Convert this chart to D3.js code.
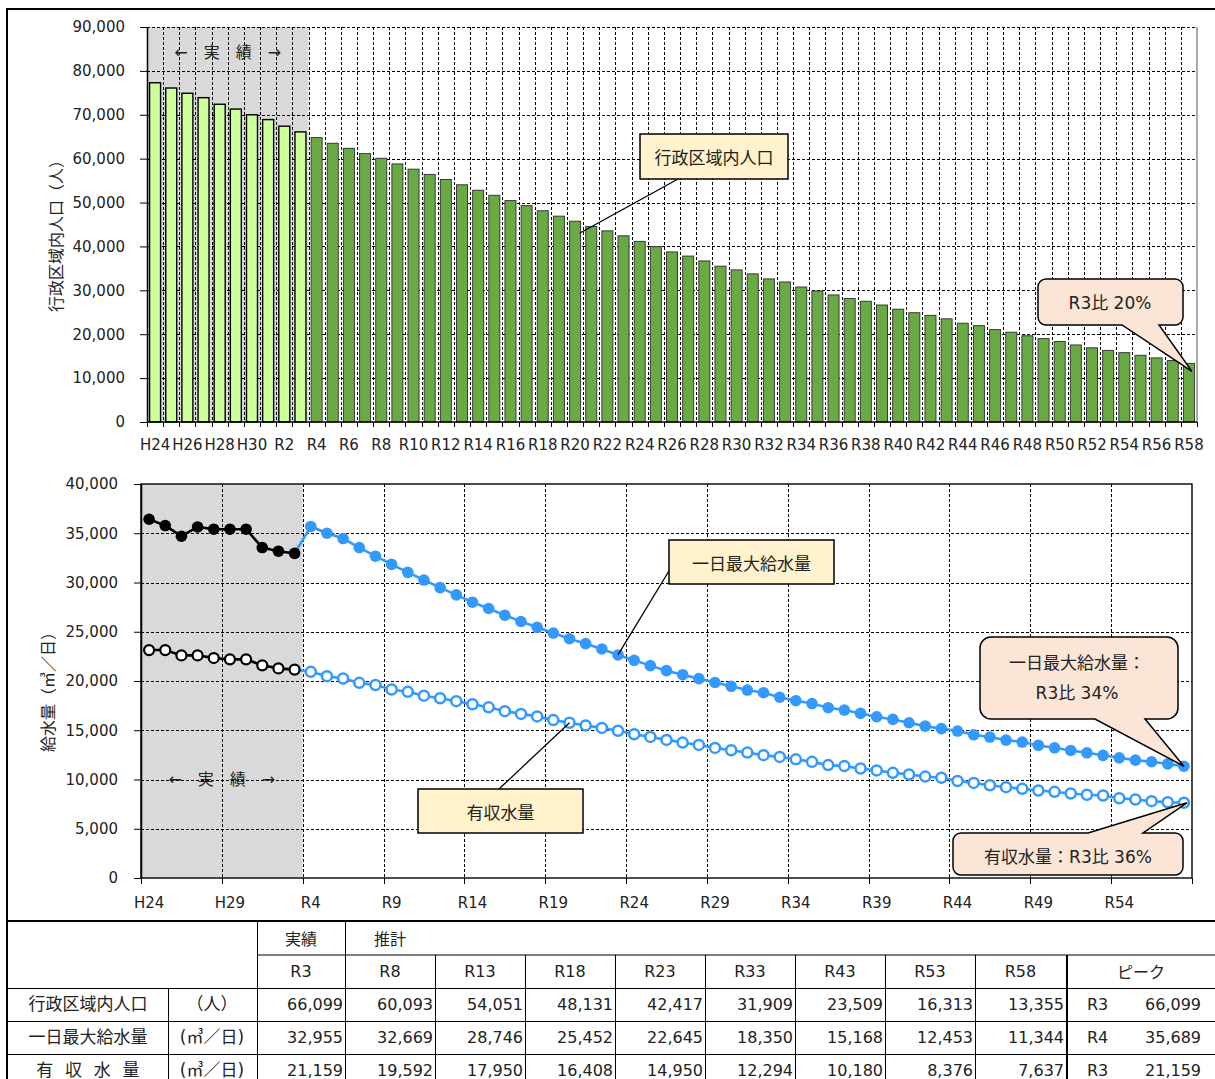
<!DOCTYPE html>
<html>
<head>
<meta charset="utf-8">
<script src="https://cdn.jsdelivr.net/npm/d3@7"></script>
<style>
  html, body { margin: 0; padding: 0; background: #fff; }
  svg { display: block; }
</style>
</head>
<body>
<svg id="chart" width="1215" height="1079"></svg>
<script>
// ---------------- data ----------------
const years = [
  "H24","H25","H26","H27","H28","H29","H30",
  "R1","R2","R3","R4","R5","R6","R7","R8","R9","R10",
  "R11","R12","R13","R14","R15","R16","R17","R18","R19","R20",
  "R21","R22","R23","R24","R25","R26","R27","R28","R29","R30",
  "R31","R32","R33","R34","R35","R36","R37","R38","R39","R40",
  "R41","R42","R43","R44","R45","R46","R47","R48","R49","R50",
  "R51","R52","R53","R54","R55","R56","R57","R58"
];
const actualYears = ["H24","H25","H26","H27","H28","H29","H30","R1","R2","R3"];

// population inside the administrative area (people), H24..R58
const population = [
  77300, 76100, 74900, 73900, 72400, 71300, 70000, 68900, 67400, 66099,
  64800, 63500, 62350, 61150, 60093, 58800, 57600, 56400, 55250, 54051,
  52800, 51650, 50450, 49300, 48131, 46900, 45750, 44550, 43550, 42417,
  41150, 39950, 38750, 37800, 36700, 35500, 34650, 33750, 32600, 31909,
  30750, 29850, 28950, 28150, 27500, 26650, 25700, 24900, 24300, 23509,
  22500, 21950, 21050, 20450, 19650, 19000, 18350, 17550, 16900, 16313,
  15800, 15200, 14600, 14000, 13355
];

// maximum daily supply (m3/day): actual H24..R3, forecast R4..R58
const maxSupplyActual = [36420, 35780, 34700, 35640, 35410, 35410, 35410, 33550, 33180, 32955];
const maxSupplyForecast = [
  35689, 35000, 34460, 33550, 32669, 31840, 31030, 30250, 29480, 28746,
  28000, 27360, 26680, 26040, 25452, 24870, 24290, 23790, 23250, 22645,
  22100, 21560, 21050, 20640, 20240, 19850, 19460, 19080, 18810, 18350,
  18000, 17710, 17290, 17050, 16710, 16370, 16100, 15760, 15420, 15168,
  14920, 14540, 14310, 14000, 13800, 13460, 13220, 12950, 12710, 12453,
  12200, 11970, 11800, 11590, 11344
];

// revenue water (m3/day): actual H24..R3, forecast R4..R58
const revenueActual = [23140, 23140, 22600, 22600, 22330, 22200, 22200, 21590, 21280, 21159];
const revenueForecast = [
  20930, 20490, 20250, 19810, 19592, 19140, 18900, 18510, 18250, 17950,
  17640, 17330, 16940, 16660, 16408, 16030, 15760, 15490, 15240, 14950,
  14590, 14320, 14020, 13750, 13510, 13210, 12970, 12730, 12470, 12294,
  12050, 11790, 11460, 11360, 11120, 10920, 10680, 10510, 10300, 10180,
  9850, 9650, 9420, 9220, 9050, 8880, 8750, 8580, 8450, 8376,
  8100, 7970, 7800, 7690, 7637
];

// axis ticks
const popTicks = [0, 10000, 20000, 30000, 40000, 50000, 60000, 70000, 80000, 90000];
const waterTicks = [0, 5000, 10000, 15000, 20000, 25000, 30000, 35000, 40000];
const popTickYears = ["H24","H26","H28","H30","R2","R4","R6","R8","R10","R12","R14","R16","R18",
  "R20","R22","R24","R26","R28","R30","R32","R34","R36","R38","R40","R42","R44","R46","R48",
  "R50","R52","R54","R56","R58"];
const waterTickYears = ["H24","H29","R4","R9","R14","R19","R24","R29","R34","R39","R44","R49","R54"];

// summary table
const tableYears = ["R3","R8","R13","R18","R23","R33","R43","R53","R58"];
const tablePopulation = [66099, 60093, 54051, 48131, 42417, 31909, 23509, 16313, 13355];
const tableMaxSupply = [32955, 32669, 28746, 25452, 22645, 18350, 15168, 12453, 11344];
const tableRevenue = [21159, 19592, 17950, 16408, 14950, 12294, 10180, 8376, 7637];
const peakYears = ["R3", "R4", "R3"];
const peakValues = [66099, 35689, 21159];

// ---------------- drawing ----------------
const FONT = '"DejaVu Sans","Noto Sans CJK JP",sans-serif';
const CJK = '"Noto Sans CJK JP","DejaVu Sans",sans-serif';
const fmt = d3.format(",");
const crisp = v => Math.round(v) + 0.5;
const svg = d3.select("#chart").attr("font-family", FONT);

const forecastYears = years.slice(actualYears.length);

function dashed(g, x1, y1, x2, y2) {
  g.append("line").attr("x1", x1).attr("y1", y1).attr("x2", x2).attr("y2", y2)
    .attr("stroke", "#000").attr("stroke-width", 1).attr("stroke-dasharray", "3,2")
    .attr("shape-rendering", "crispEdges");
}
function solid(g, x1, y1, x2, y2, w, c) {
  g.append("line").attr("x1", x1).attr("y1", y1).attr("x2", x2).attr("y2", y2)
    .attr("stroke", c || "#000").attr("stroke-width", w || 1);
}
function calloutPath(o) {
  const { x, y, w, h, r, t1, t2, tip } = o;
  if (o.side === "bottom") {
    return `M${x + r},${y}H${x + w - r}A${r},${r} 0 0 1 ${x + w},${y + r}V${y + h - r}` +
      `A${r},${r} 0 0 1 ${x + w - r},${y + h}H${t2}L${tip[0]},${tip[1]}L${t1},${y + h}H${x + r}` +
      `A${r},${r} 0 0 1 ${x},${y + h - r}V${y + r}A${r},${r} 0 0 1 ${x + r},${y}Z`;
  }
  return `M${x + r},${y}H${t1}L${tip[0]},${tip[1]}L${t2},${y}H${x + w - r}` +
    `A${r},${r} 0 0 1 ${x + w},${y + r}V${y + h - r}A${r},${r} 0 0 1 ${x + w - r},${y + h}` +
    `H${x + r}A${r},${r} 0 0 1 ${x},${y + h - r}V${y + r}A${r},${r} 0 0 1 ${x + r},${y}Z`;
}
function label(g, x, y, text, size, opts) {
  opts = opts || {};
  return g.append("text").attr("x", x).attr("y", y)
    .attr("text-anchor", opts.anchor || "middle").attr("dominant-baseline", "central")
    .attr("font-size", size).attr("font-family", opts.family || FONT)
    .attr("fill", opts.fill || "#222").text(text);
}

// outer frame
svg.append("path").attr("d", "M7,1079V9H1215").attr("fill", "none")
  .attr("stroke", "#000").attr("stroke-width", 2);

// ===== population bars =====
const T = { left: 147, right: 1197, top: 27, bottom: 422 };
const xTop = d3.scaleBand().domain(years).range([T.left, T.right]).paddingInner(0.32).paddingOuter(0.16);
const stepT = xTop.step();
const yTop = d3.scaleLinear().domain([0, 90000]).range([T.bottom, T.top]);
const gTop = svg.append("g");

gTop.append("rect").attr("x", T.left).attr("y", T.top)
  .attr("width", stepT * actualYears.length).attr("height", T.bottom - T.top).attr("fill", "#d9d9d9");

popTicks.filter(d => d > 0).forEach(d => dashed(gTop, T.left, crisp(yTop(d)), T.right, crisp(yTop(d))));
d3.range(1, years.length).forEach(k => {
  const x = crisp(T.left + k * stepT);
  dashed(gTop, x, T.top, x, T.bottom);
});

gTop.selectAll("rect.bar").data(years).join("rect").attr("class", "bar")
  .attr("x", d => xTop(d)).attr("width", xTop.bandwidth())
  .attr("y", (d, i) => yTop(population[i]))
  .attr("height", (d, i) => T.bottom - yTop(population[i]))
  .attr("fill", (d, i) => i < actualYears.length ? "#ccff99" : "#6aaa45")
  .attr("stroke", (d, i) => i < actualYears.length ? "#000" : "#3a3a3a")
  .attr("stroke-width", (d, i) => i < actualYears.length ? 1.4 : 1);

label(gTop, T.left + stepT * actualYears.length / 2, 52, "←　実　績　→", 16);

// plot border and axes
solid(gTop, T.right, T.top, T.right, T.bottom, 1, "#555");
const yAxisTop = gTop.append("g").attr("transform", `translate(${T.left},0)`)
  .call(d3.axisLeft(yTop).tickValues(popTicks).tickFormat(fmt).tickSize(7).tickPadding(15).tickSizeOuter(0));
yAxisTop.select(".domain").attr("stroke", "#000").attr("stroke-width", 1.5);
yAxisTop.selectAll("text").attr("font-size", 15).attr("font-family", FONT).attr("fill", "#222");

solid(gTop, T.left, T.bottom, T.right, T.bottom, 1.5);
d3.range(0, years.length + 1).forEach(k => {
  const x = crisp(T.left + k * stepT);
  solid(gTop, x, T.bottom, x, T.bottom + 5, 1);
});
const xAxisTop = gTop.append("g").attr("transform", `translate(0,${T.bottom})`)
  .call(d3.axisBottom(xTop).tickValues(popTickYears).tickSize(0).tickPadding(17));
xAxisTop.select(".domain").remove();
xAxisTop.selectAll("text").attr("font-size", 15).attr("font-family", FONT).attr("fill", "#222");

label(gTop, 0, 0, "行政区域内人口（人）", 16, { family: CJK })
  .attr("transform", "translate(55,232) rotate(-90)");

// annotations
const popLeaderYear = "R20";
const popLeaderIdx = years.indexOf(popLeaderYear);
solid(gTop, 678, 179, xTop(popLeaderYear) + xTop.bandwidth() - 1, yTop(population[popLeaderIdx]) + 12, 1.3);
gTop.append("rect").attr("x", 640).attr("y", 134).attr("width", 148).attr("height", 45)
  .attr("fill", "#fff2cc").attr("stroke", "#000").attr("stroke-width", 1.5);
label(gTop, 714, 156.5, "行政区域内人口", 17, { family: CJK });

const lastIdx = years.length - 1;
gTop.append("path").attr("d", calloutPath({
  x: 1038, y: 279, w: 145, h: 46, r: 8, side: "bottom", t1: 1122, t2: 1159,
  tip: [xTop(years[lastIdx]) + xTop.bandwidth() / 2 + 3, yTop(population[lastIdx]) + 8]
})).attr("fill", "#fbe5d6").attr("stroke", "#000").attr("stroke-width", 1.5);
label(gTop, 1110, 303, "R3比 20%", 17);

// ===== water supply lines =====
const B = { left: 141, right: 1192, top: 484, bottom: 878 };
const xBot = d3.scaleBand().domain(years).range([B.left, B.right]);
const cx = d => xBot(d) + xBot.bandwidth() / 2;
const yBot = d3.scaleLinear().domain([0, 40000]).range([B.bottom, B.top]);
const gBot = svg.append("g");

gBot.append("rect").attr("x", B.left).attr("y", B.top)
  .attr("width", xBot.step() * actualYears.length).attr("height", B.bottom - B.top).attr("fill", "#d9d9d9");

waterTicks.filter(d => d > 0 && d < 40000).forEach(d => dashed(gBot, B.left, crisp(yBot(d)), B.right, crisp(yBot(d))));
waterTickYears.slice(1).forEach(y => {
  const x = crisp(xBot(y));
  dashed(gBot, x, B.top, x, B.bottom);
});

label(gBot, B.left + xBot.step() * actualYears.length / 2, 779, "←　実　績　→", 16);

gBot.append("rect").attr("x", B.left).attr("y", B.top).attr("width", B.right - B.left)
  .attr("height", B.bottom - B.top).attr("fill", "none").attr("stroke", "#000").attr("stroke-width", 1.4);

const yAxisBot = gBot.append("g").attr("transform", `translate(${B.left},0)`)
  .call(d3.axisLeft(yBot).tickValues(waterTicks).tickFormat(fmt).tickSize(7).tickPadding(16).tickSizeOuter(0));
yAxisBot.select(".domain").attr("stroke", "#000").attr("stroke-width", 1.5);
yAxisBot.selectAll("text").attr("font-size", 15).attr("font-family", FONT).attr("fill", "#222");

waterTickYears.map(y => xBot(y)).concat([B.right]).forEach(x => solid(gBot, crisp(x), B.bottom, crisp(x), B.bottom + 6, 1));
const xAxisBot = gBot.append("g").attr("transform", `translate(0,${B.bottom})`)
  .call(d3.axisBottom(xBot).tickValues(waterTickYears).tickSize(0).tickPadding(19));
xAxisBot.select(".domain").remove();
xAxisBot.selectAll("text").attr("font-size", 15).attr("font-family", FONT).attr("fill", "#222");

label(gBot, 0, 0, "給水量（㎥／日）", 16, { family: CJK })
  .attr("transform", "translate(47,688) rotate(-90)");

const BLUE = "#3399ff";
const line = d3.line().x(d => cx(d.year)).y(d => yBot(d.v));
const toPts = (ys, vs) => ys.map((y, i) => ({ year: y, v: vs[i] }));

const maxAct = toPts(actualYears, maxSupplyActual);
const revAct = toPts(actualYears, revenueActual);
const maxFc = toPts(forecastYears, maxSupplyForecast);
const revFc = toPts(forecastYears, revenueForecast);
const maxFcLine = [maxAct[maxAct.length - 1]].concat(maxFc);
const revFcLine = [revAct[revAct.length - 1]].concat(revFc);

// forecast (blue)
gBot.append("path").attr("d", line(revFcLine)).attr("fill", "none").attr("stroke", BLUE).attr("stroke-width", 2.6);
gBot.selectAll("circle.revfc").data(revFc).join("circle").attr("class", "revfc")
  .attr("cx", d => cx(d.year)).attr("cy", d => yBot(d.v)).attr("r", 5)
  .attr("fill", "#fff").attr("stroke", BLUE).attr("stroke-width", 2.5);
gBot.append("path").attr("d", line(maxFcLine)).attr("fill", "none").attr("stroke", BLUE).attr("stroke-width", 2.6);
gBot.selectAll("circle.maxfc").data(maxFc).join("circle").attr("class", "maxfc")
  .attr("cx", d => cx(d.year)).attr("cy", d => yBot(d.v)).attr("r", 5.8).attr("fill", BLUE);

// actual (black)
gBot.append("path").attr("d", line(revAct)).attr("fill", "none").attr("stroke", "#000").attr("stroke-width", 2.6);
gBot.selectAll("circle.revact").data(revAct).join("circle").attr("class", "revact")
  .attr("cx", d => cx(d.year)).attr("cy", d => yBot(d.v)).attr("r", 5)
  .attr("fill", "#fff").attr("stroke", "#000").attr("stroke-width", 2.2);
gBot.append("path").attr("d", line(maxAct)).attr("fill", "none").attr("stroke", "#000").attr("stroke-width", 2.6);
gBot.selectAll("circle.maxact").data(maxAct).join("circle").attr("class", "maxact")
  .attr("cx", d => cx(d.year)).attr("cy", d => yBot(d.v)).attr("r", 5.8).attr("fill", "#000");

// annotations
const maxLeader = maxFc.find(d => d.year === "R23");
solid(gBot, 672, 566, cx(maxLeader.year), yBot(maxLeader.v), 1.3);
gBot.append("rect").attr("x", 669).attr("y", 540).attr("width", 165).attr("height", 44)
  .attr("fill", "#fff2cc").attr("stroke", "#000").attr("stroke-width", 1.5);
label(gBot, 751.5, 562, "一日最大給水量", 17, { family: CJK });

const revLeader = revFc.find(d => d.year === "R20");
solid(gBot, 499, 789, cx(revLeader.year), yBot(revLeader.v), 1.3);
gBot.append("rect").attr("x", 418).attr("y", 789).attr("width", 165).attr("height", 44)
  .attr("fill", "#fff2cc").attr("stroke", "#000").attr("stroke-width", 1.5);
label(gBot, 500.5, 811, "有収水量", 17, { family: CJK });

const maxLast = maxFc[maxFc.length - 1];
gBot.append("path").attr("d", calloutPath({
  x: 980, y: 637, w: 198, h: 82, r: 11, side: "bottom", t1: 1095, t2: 1145,
  tip: [cx(maxLast.year), yBot(maxLast.v)]
})).attr("fill", "#fbe5d6").attr("stroke", "#000").attr("stroke-width", 1.5);
label(gBot, 1077, 663, "一日最大給水量：", 17);
label(gBot, 1077, 693, "R3比 34%", 17);

const revLast = revFc[revFc.length - 1];
gBot.append("path").attr("d", calloutPath({
  x: 953, y: 833, w: 230, h: 42, r: 8, side: "top", t1: 1088, t2: 1143,
  tip: [cx(revLast.year) + 3, yBot(revLast.v)]
})).attr("fill", "#fbe5d6").attr("stroke", "#000").attr("stroke-width", 1.5);
label(gBot, 1068, 857, "有収水量：R3比 36%", 17);

// ===== summary table =====
const gTab = svg.append("g");
const colEdges = [257, 345, 435, 525, 615, 705, 795, 885, 975, 1066];
const rowMid = [938, 971, 1004, 1037, 1070];
solid(gTab, 7, 921, 1215, 921, 2);
solid(gTab, 257, 955, 1215, 955, 1);
[988, 1021, 1054].forEach(y => solid(gTab, 7, y + 0.5, 1215, y + 0.5, 1));
solid(gTab, 168.5, 988, 168.5, 1079, 1);
solid(gTab, 257.5, 921, 257.5, 1079, 1);
solid(gTab, 345.5, 921, 345.5, 1079, 1);
colEdges.slice(2, -1).forEach(x => solid(gTab, x + 0.5, 955, x + 0.5, 1079, 1));
solid(gTab, 1067, 955, 1067, 1079, 2);

label(gTab, 301, rowMid[0], "実績", 16, { family: CJK });
label(gTab, 390, rowMid[0], "推計", 16, { family: CJK });
tableYears.forEach((y, i) => label(gTab, (colEdges[i] + colEdges[i + 1]) / 2, rowMid[1], y, 16));
label(gTab, 1141, rowMid[1], "ピーク", 16, { family: CJK });

const rowNames = ["行政区域内人口", "一日最大給水量", "有 収 水 量"];
const rowUnits = ["（人）", "(㎥／日)", "(㎥／日)"];
const rowValues = [tablePopulation, tableMaxSupply, tableRevenue];
rowNames.forEach((name, r) => {
  const y = rowMid[r + 2];
  const t = label(gTab, 88, y, name, 17);
  if (r === 2) t.attr("letter-spacing", 3.2).attr("x", 89.5);
  label(gTab, 212, y, rowUnits[r], 17);
  rowValues[r].forEach((v, i) => label(gTab, colEdges[i + 1] - 2, y, fmt(v), 16, { anchor: "end" }));
  label(gTab, 1087, y, peakYears[r], 16, { anchor: "start" });
  label(gTab, 1201, y, fmt(peakValues[r]), 16, { anchor: "end" });
});
</script>
</body>
</html>
